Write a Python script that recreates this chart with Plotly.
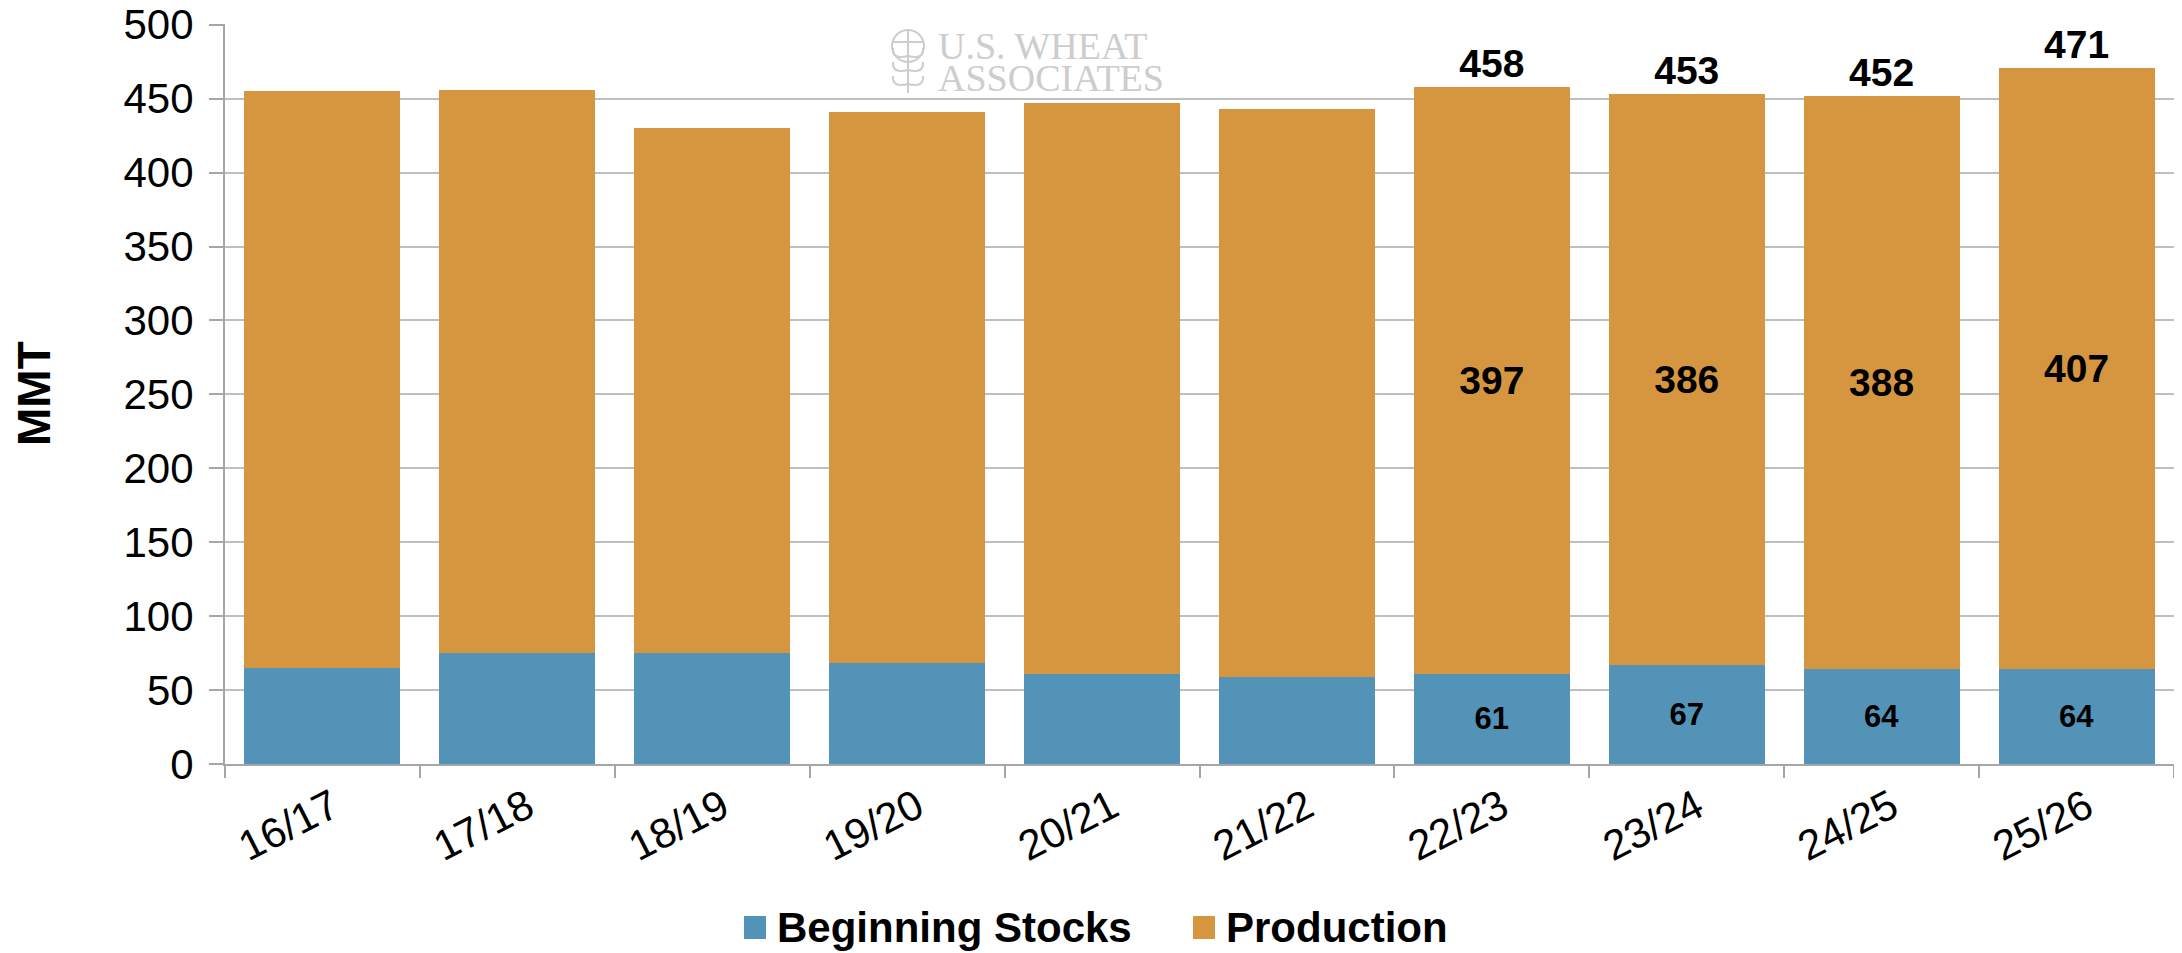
import plotly.graph_objects as go

# marketing years on the x axis
years = ["16/17", "17/18", "18/19", "19/20", "20/21",
         "21/22", "22/23", "23/24", "24/25", "25/26"]

# beginning stocks and production, MMT
beginning_stocks = [65, 75, 75, 68, 61, 59, 61, 67, 64, 64]
production = [390, 381, 355, 373, 386, 384, 397, 386, 388, 407]

# only the last four years carry value labels
labelled_years = ["22/23", "23/24", "24/25", "25/26"]

y_ticks = [0, 50, 100, 150, 200, 250, 300, 350, 400, 450, 500]

BLUE = "#5393B8"
ORANGE = "#D69640"
GRID = "#BFBFBF"
AXIS = "#A6A6A6"
ARIAL = "Liberation Sans, Arial, sans-serif"

# the page body keeps its default 8px margin, so the figure is made
# 8px smaller and everything below is placed in page pixels
OFF = 8
W, H = 2182 - OFF, 953 - OFF
PLOT_L, PLOT_R, PLOT_T, PLOT_B = 225, 2174, 24, 764   # plot area, page pixels
L, T = PLOT_L - OFF, PLOT_T - OFF
R, B = W - (PLOT_R - OFF), H - (PLOT_B - OFF)
PW, PH = PLOT_R - PLOT_L, PLOT_B - PLOT_T


def px_x(px):
    """page pixel column -> paper x"""
    return (px - PLOT_L) / PW


def px_y(py):
    """page pixel row -> paper y"""
    return (PLOT_B - py) / PH


totals = [s + p for s, p in zip(beginning_stocks, production)]
stock_text = [str(v) if yr in labelled_years else "" for yr, v in zip(years, beginning_stocks)]
prod_text = [str(v) if yr in labelled_years else "" for yr, v in zip(years, production)]
lab_idx = [years.index(yr) for yr in labelled_years]

fig = go.Figure()

fig.add_trace(go.Bar(
    x=years, y=beginning_stocks, name="Beginning Stocks",
    marker=dict(color=BLUE, line=dict(width=0)),
    text=stock_text, textposition="inside", insidetextanchor="middle",
    textangle=0, textfont=dict(family=ARIAL, size=31, color="black", weight="bold"),
    showlegend=False,
))
fig.add_trace(go.Bar(
    x=years, y=production, name="Production",
    marker=dict(color=ORANGE, line=dict(width=0)),
    text=prod_text, textposition="inside", insidetextanchor="middle",
    textangle=0, textfont=dict(family=ARIAL, size=39, color="black", weight="bold"),
    showlegend=False,
))
# totals above the stacks
fig.add_trace(go.Scatter(
    x=[years[i] for i in lab_idx], y=[totals[i] for i in lab_idx],
    mode="text", text=[str(totals[i]) for i in lab_idx],
    textposition="top center", showlegend=False, hoverinfo="skip",
    textfont=dict(family=ARIAL, size=39, color="black", weight="bold"),
    cliponaxis=False,
))

fig.update_layout(
    width=W, height=H,
    barmode="stack", bargap=0.2,
    plot_bgcolor="white", paper_bgcolor="white",
    margin=dict(l=L, r=R, t=T, b=B, autoexpand=False),
    showlegend=False,
)

fig.update_xaxes(
    automargin=False,
    showline=True, linecolor=AXIS, linewidth=2,
    ticks="outside", tickson="boundaries", ticklen=12, tickcolor=AXIS, tickwidth=2,
    tickangle=-27, tickfont=dict(family=ARIAL, size=42, color="black"),
    ticklabelstandoff=0, ticklabelshift=10,
    showgrid=False,
)
fig.update_yaxes(
    automargin=False,
    range=[0, 500.5], tickvals=y_ticks,
    showline=True, linecolor=AXIS, linewidth=2,
    ticks="outside", ticklen=14, tickcolor=AXIS, tickwidth=2,
    tickfont=dict(family=ARIAL, size=42, color="black"),
    ticklabelstandoff=7, ticklabeloverflow="allow",
    showgrid=True, gridcolor=GRID, gridwidth=2,
    zeroline=False,
)

# y axis title
fig.add_annotation(
    text="MMT", textangle=-90, showarrow=False,
    xref="paper", yref="paper", x=px_x(34), y=px_y(394),
    xanchor="center", yanchor="middle",
    font=dict(family=ARIAL, size=46, color="black", weight="bold"),
)

# legend, drawn by hand so the swatches can be as big as in the original
legend_items = [("Beginning Stocks", BLUE, 744), ("Production", ORANGE, 1193)]
for label, colour, left in legend_items:
    fig.add_shape(type="rect", xref="paper", yref="paper",
                  x0=px_x(left), x1=px_x(left + 22), y0=px_y(939), y1=px_y(916),
                  fillcolor=colour, line=dict(width=0))
    fig.add_annotation(
        text=label, showarrow=False, xref="paper", yref="paper",
        x=px_x(left + 31), y=px_y(927), xanchor="left", yanchor="middle",
        font=dict(family=ARIAL, size=42, color="black", weight="bold"),
    )

# watermark: U.S. Wheat Associates
WM = "#CDCDCD"
for line, row in [("U.S. WHEAT", 46), ("ASSOCIATES", 78)]:
    fig.add_annotation(
        text=line, showarrow=False, xref="paper", yref="paper",
        x=px_x(936), y=px_y(row), xanchor="left", yanchor="middle",
        font=dict(family="Liberation Serif, Times New Roman, serif", size=38, color=WM),
    )

cx, cy, r = 908, 46, 16
fig.add_shape(type="circle", xref="paper", yref="paper",
              x0=px_x(cx - r), x1=px_x(cx + r), y0=px_y(cy + r), y1=px_y(cy - r),
              line=dict(color=WM, width=2))
fig.add_shape(type="line", xref="paper", yref="paper",
              x0=px_x(cx), x1=px_x(cx), y0=px_y(cy - r), y1=px_y(93),
              line=dict(color=WM, width=2))
fig.add_shape(type="line", xref="paper", yref="paper",
              x0=px_x(cx - r), x1=px_x(cx + r), y0=px_y(cy - 4), y1=px_y(cy - 4),
              line=dict(color=WM, width=2))


def leaf_path(pts):
    (x0, y0), (x1, y1), (x2, y2) = pts
    return f"M {px_x(x0)},{px_y(y0)} Q {px_x(x1)},{px_y(y1)} {px_x(x2)},{px_y(y2)}"


for dy in (0, 14, 28):
    for side in (-1, 1):
        fig.add_shape(type="path", xref="paper", yref="paper",
                      path=leaf_path([(cx, cy + 10 + dy), (cx + side * 16, cy + 14 + dy),
                                      (cx + side * 15, cy + 2 + dy)]),
                      line=dict(color=WM, width=2))

fig.write_html("out.html")
